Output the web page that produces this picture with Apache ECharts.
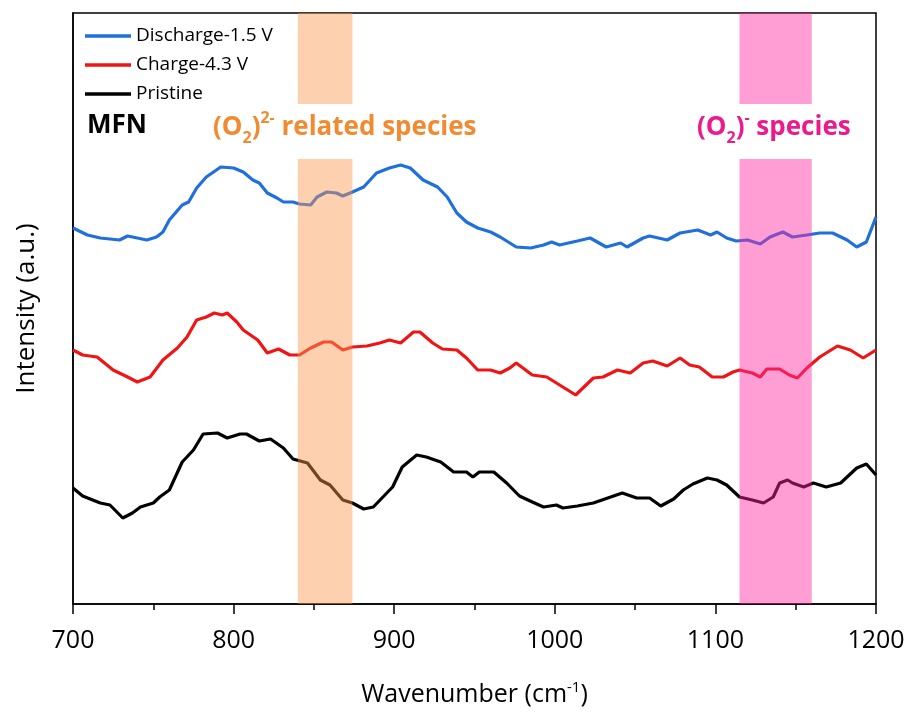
<!DOCTYPE html>
<html>
<head>
<meta charset="utf-8">
<script src="https://cdn.jsdelivr.net/npm/echarts@6/dist/echarts.min.js"></script>
<style>
html,body{margin:0;padding:0;background:#fff;}
#chart{width:910px;height:713px;}
</style>
</head>
<body>
<div id="chart"></div>
<script>
// X ticks
const xTicks = [700, 800, 900, 1000, 1100, 1200];
// Series names
const seriesNames = ['Discharge-1.5 V', 'Charge-4.3 V', 'Pristine'];
// Highlighted bands (cm^-1)
const bandPeroxide = [840, 874];
const bandSuperoxide = [1115, 1160];

// [wavenumber, intensity (offset, a.u.)]
const discharge = [
[700,376],[709,369],[717,366],[729,364],[734,368],[746,364],[752,367],[756,372],[760,384],[768,399],
[772,402],[777,416],[783,427],[792,437],[800,436],[806,432],[812,424],[816,421],[821,411],[827,406],
[831,402],[837,402],[841,400],[848,399],[852,407],[858,412],[864,411],[868,408],[874,412],[881,417],
[889,431],[897,436],[904,439],[910,436],[918,424],[927,417],[933,407],[939,391],[945,382],[952,376],
[960,372],[966,367],[976,357],[985,356],[993,359],[998,362],[1003,359],[1014,363],[1022,366],[1032,357],
[1041,361],[1045,357],[1055,366],[1059,368],[1070,364],[1078,371],[1089,374],[1097,369],[1101,372],[1107,366],
[1113,363],[1120,364],[1128,360],[1134,367],[1142,372],[1148,367],[1157,369],[1165,371],[1173,371],[1182,364],
[1188,357],[1194,362],[1200,387]
];
const charge = [
[700,254],[706,249],[715,247],[725,234],[734,227],[740,222],[748,227],[756,244],[765,256],[771,267],
[777,284],[783,287],[788,291],[793,289],[796,291],[802,282],[806,274],[815,264],[821,251],[828,255],
[835,249],[841,249],[848,256],[856,262],[861,262],[868,254],[874,257],[883,258],[891,261],[897,264],
[904,261],[912,272],[916,272],[924,261],[930,255],[939,254],[945,246],[952,234],[960,234],[966,231],
[972,236],[976,241],[986,229],[995,227],[1003,219],[1013,209],[1024,226],[1030,227],[1039,234],[1047,231],
[1055,241],[1061,243],[1070,238],[1078,246],[1084,239],[1090,237],[1098,227],[1105,227],[1111,232],[1115,234],
[1123,231],[1128,227],[1132,235],[1140,235],[1146,229],[1151,226],[1157,236],[1165,247],[1176,258],[1184,254],
[1192,246],[1200,254]
];
const pristine = [
[700,116],[706,108],[717,101],[723,99],[731,86],[737,91],[742,97],[750,101],[754,107],[760,114],
[768,142],[775,154],[781,170],[790,171],[796,166],[804,170],[808,170],[816,163],[823,165],[831,156],
[837,145],[846,141],[854,124],[860,119],[868,104],[874,101],[881,95],[887,97],[893,107],[899,117],
[905,137],[914,149],[920,147],[929,142],[937,132],[945,132],[949,127],[953,132],[962,132],[970,121],
[978,108],[986,102],[993,97],[1001,99],[1005,96],[1014,98],[1024,101],[1033,106],[1042,111],[1051,106],
[1059,106],[1066,98],[1074,105],[1080,114],[1086,120],[1095,126],[1101,124],[1107,119],[1115,107],[1123,104],
[1130,101],[1136,107],[1140,121],[1145,124],[1148,121],[1155,117],[1161,121],[1169,117],[1178,121],[1188,136],
[1194,140],[1200,129]
];
const colors = ['#1f6fdc', '#f01414', '#000000'];

const yMax = 591;
const gapLow = 445, gapHigh = 500;

const chart = echarts.init(document.getElementById('chart'), null, {renderer: 'canvas'});
const FONT = 'Open Sans';

function lineSeries(name, data, color) {
  return {
    name: name, type: 'line', data: data, showSymbol: false, symbol: 'none',
    lineStyle: {color: color, width: 3.2}, itemStyle: {color: color}, z: 2, animation: false
  };
}

function bandAreas(b, color) {
  return [
    [{xAxis: b[0], yAxis: 0, itemStyle: {color: color}}, {xAxis: b[1], yAxis: gapLow}],
    [{xAxis: b[0], yAxis: gapHigh, itemStyle: {color: color}}, {xAxis: b[1], yAxis: yMax}]
  ];
}

const orangeText = '#f28a32', pinkText = '#ec1a8c';
function richStyle(color) {
  return {
    a: {fontFamily: FONT, fontSize: 26, fontWeight: 'bold', fill: color, lineHeight: 36},
    s: {fontFamily: FONT, fontSize: 16, fontWeight: 'bold', fill: color, lineHeight: 16, verticalAlign: 'bottom'},
    p: {fontFamily: FONT, fontSize: 16, fontWeight: 'bold', fill: color, lineHeight: 16, verticalAlign: 'top'}
  };
}

const option = {
  backgroundColor: '#ffffff',
  animation: false,
  grid: {left: 73, top: 13, right: 34, bottom: 109, outerBoundsMode: 'none', show: true, borderColor: '#000', borderWidth: 1.5, backgroundColor: 'transparent'},
  legend: {
    data: seriesNames, orient: 'vertical', left: 80, top: 20, icon: 'rect',
    itemWidth: 46, itemHeight: 3.5, itemGap: 7,
    textStyle: {fontFamily: FONT, fontSize: 19, color: '#000', lineHeight: 22}
  },
  xAxis: {
    type: 'value', min: xTicks[0], max: xTicks[xTicks.length - 1], interval: 100,
    axisLine: {show: true, lineStyle: {color: '#000', width: 1.5}},
    axisTick: {show: true, inside: false, length: 10, lineStyle: {color: '#000', width: 1.5}},
    minorTick: {show: true, splitNumber: 2, length: 6, lineStyle: {color: '#000', width: 1.5}},
    splitLine: {show: false},
    axisLabel: {fontFamily: FONT, fontSize: 25, color: '#000', margin: 24, formatter: v => String(v)},
    name: '{a|Wavenumber (cm}{s|-1}{a|)}', nameLocation: 'middle', nameGap: 76,
    nameTextStyle: {rich: {
      a: {fontFamily: FONT, fontSize: 25, color: '#000', lineHeight: 30},
      s: {fontFamily: FONT, fontSize: 15, color: '#000', lineHeight: 15, verticalAlign: 'top'}
    }}
  },
  yAxis: {
    type: 'value', min: 0, max: yMax,
    axisLine: {show: true, lineStyle: {color: '#000', width: 1.5}},
    axisTick: {show: false}, axisLabel: {show: false}, splitLine: {show: false},
    name: 'Intensity (a.u.)', nameLocation: 'middle', nameGap: 33,
    nameTextStyle: {fontFamily: FONT, fontSize: 26, color: '#000'}
  },
  series: [
    lineSeries(seriesNames[0], discharge, colors[0]),
    lineSeries(seriesNames[1], charge, colors[1]),
    lineSeries(seriesNames[2], pristine, colors[2]),
    {
      name: 'bands', type: 'line', data: [], z: 10, silent: true,
      markArea: {
        silent: true, z: 10,
        data: bandAreas(bandPeroxide, 'rgba(250,150,80,0.45)').concat(bandAreas(bandSuperoxide, 'rgba(255,40,160,0.45)'))
      }
    }
  ],
  graphic: [
    {type: 'text', left: 87, top: 113, style: {text: 'MFN', fontFamily: FONT, fontSize: 26, fontWeight: 'bold', fill: '#000'}},
    {type: 'text', left: 213, top: 110, style: {
      text: '{a|(O}{s|2}{a|)}{p|2-}{a| related species}', rich: richStyle(orangeText)
    }},
    {type: 'text', left: 697, top: 110, style: {
      text: '{a|(O}{s|2}{a|)}{p|-}{a| species}', rich: richStyle(pinkText)
    }}
  ]
};
chart.setOption(option);
</script>
</body>
</html>
